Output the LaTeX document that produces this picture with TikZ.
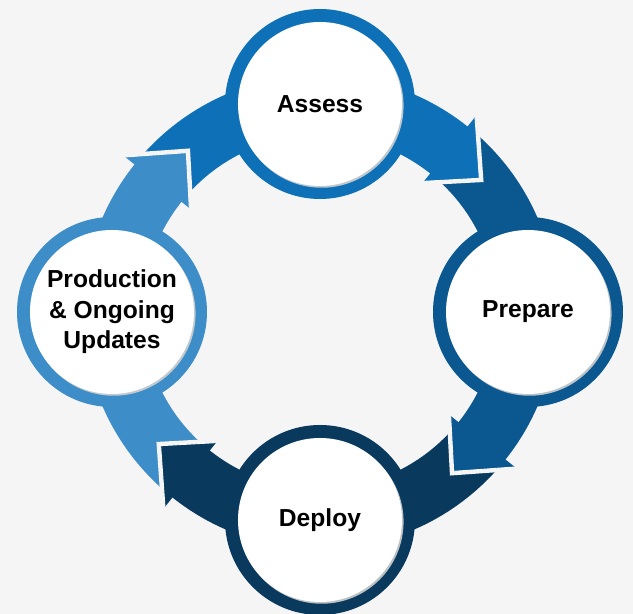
\documentclass[tikz,border=0pt]{standalone}
\usepackage{fontspec}
\setmainfont{Liberation Sans}
\usetikzlibrary{shadows}

\definecolor{assesscol}{RGB}{14,113,184}
\definecolor{preparecol}{RGB}{11,88,144}
\definecolor{deploycol}{RGB}{9,58,94}
\definecolor{prodcol}{RGB}{61,141,200}
\definecolor{bgcol}{RGB}{245,245,245}

\tikzset{
  stage/.style={circle, fill=white, minimum size=3.28cm, inner sep=0pt, align=center,
    font=\fontsize{14}{17.3}\selectfont\bfseries,
    drop shadow={shadow xshift=0.9pt, shadow yshift=-1pt, fill=black!18, opacity=0.9}},
  gap/.style={bgcol, line width=4.5pt},
}

\begin{document}
\begin{tikzpicture}
    \useasboundingbox[fill=bgcol] (-6.4,-6.04) rectangle (6.26,6.24);
    % ring pieces, each one ends under its own arrow head
    \foreach \a/\col in {140/assesscol, 50/preparecol, -40/deploycol, -130/prodcol}
    {
        \fill [\col] (\a:4.74) arc [start angle=\a, end angle=\a-90, radius=4.74cm]
            -- ({\a-90}:3.54) arc [start angle=\a-90, end angle=\a, radius=3.54cm] -- cycle;
    }
    % arrow heads
    \foreach \t/\col in {40/assesscol, -50/preparecol, -140/deploycol, 130/prodcol}
    {
        \draw [gap] ({\t+11.5}:4.98) -- (\t:4.16) -- ({\t+11.5}:3.34);
        \fill [\col] ({\t+11.5}:4.98) -- (\t:4.16) -- ({\t+11.5}:3.34) -- cycle;
        \draw [white, line width=0.5pt] ({\t+11.5}:4.98) -- (\t:4.16) -- ({\t+11.5}:3.34);
    }
    % rings of the stages
    \foreach \ang/\col in {90/assesscol, 0/preparecol, 270/deploycol, 180/prodcol}
    {
        \fill [\col] (\ang:4.16) circle (1.9cm);
    }
    \node [stage] (assess) at (90:4.16) {Assess};
    \node [stage] (prepare) at (0:4.16) {Prepare};
    \node [stage] (deploy) at (270:4.16) {Deploy};
    \node [stage] (prod) at (180:4.16) {Production\\\& Ongoing\\Updates};
\end{tikzpicture}
\end{document}
